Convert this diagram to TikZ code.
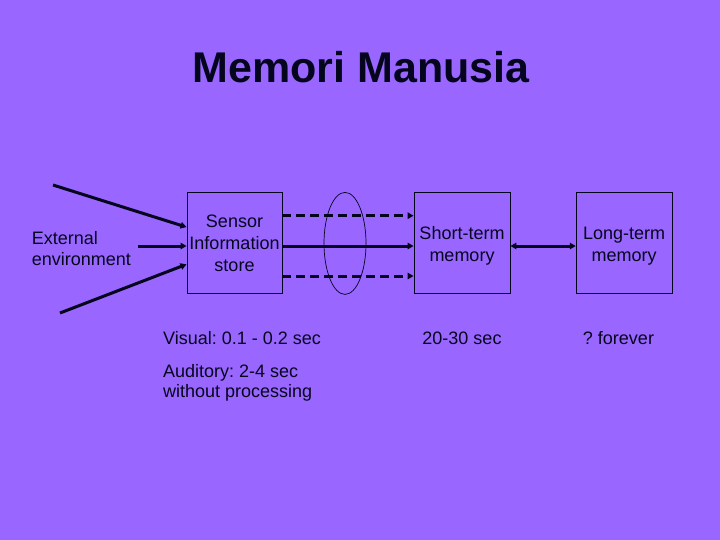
\documentclass[tikz,border=0pt]{standalone}
\usepackage{fontspec}
\setmainfont{Liberation Sans}
\usetikzlibrary{arrows.meta,calc,shapes.geometric}
\frenchspacing
\definecolor{bg}{RGB}{153,102,255}
\definecolor{ink}{RGB}{5,5,30}
\tikzset{
  memorybox/.style={draw=ink, line width=0.9pt, minimum width=96pt, minimum height=101pt,
    inner sep=0pt, align=center, text=ink, font=\fontsize{18}{22}\selectfont},
  plaintext/.style={inner sep=0pt, text=ink, font=\fontsize{18}{20.5}\selectfont},
  flow/.style={draw=ink, line width=3pt, -{Triangle[length=6pt,width=6.5pt]}},
  dflow/.style={flow, dash pattern=on 9pt off 5pt},
  bidir/.style={draw=ink, line width=3pt, {Triangle[length=6pt,width=6.5pt]}-{Triangle[length=6pt,width=6.5pt]}}
}
\begin{document}
\begin{tikzpicture}[x=1pt,y=-1pt]
\fill[bg] (0,0) rectangle (720,540);
\useasboundingbox (0,0) rectangle (720,540);

\node[inner sep=0pt, text=ink, font=\fontsize{43}{48}\selectfont\bfseries, anchor=base] (title) at (361,82.7) {Memori Manusia};

\node[memorybox, minimum width=95pt] (sensor) at (234.5,243.4) {Sensor\\Information\\store};
\node[memorybox] (stm) at (462,243.4) {\rule{0pt}{17pt}Short-term\\memory};
\node[memorybox] (ltm) at (624.2,243.4) {\rule{0pt}{17pt}Long-term\\memory};

\node[plaintext, align=left, anchor=west] (env) at (31.7,248.7) {External\\environment};

\node[draw=ink, line width=0.7pt, ellipse, minimum width=42pt, minimum height=102pt, inner sep=0pt] (ell) at (345,243.4) {};

\coordinate (in1) at (53,185);
\coordinate (in2) at (138,246);
\coordinate (in3) at (60,313);
\draw[flow] (in1) -- ($(sensor.west)+(0,-16.3)$);
\draw[flow] (in2) -- ($(sensor.west)+(0,2.6)$);
\draw[flow] (in3) -- ($(sensor.west)+(0,20.9)$);

\draw[dflow] ($(sensor.east)+(0,-27.7)$) -- ($(stm.west)+(0,-27.7)$);
\draw[flow] ($(sensor.east)+(0,2.6)$) -- ($(stm.west)+(0,2.6)$);
\draw[dflow] ($(sensor.east)+(0,32.6)$) -- ($(stm.west)+(0,32.6)$);

\draw[bidir] ($(stm.east)+(0,2.6)$) -- ($(ltm.west)+(0,2.6)$);

\node[plaintext, anchor=base west] (visual) at (163,344) {Visual: 0.1 - 0.2 sec};
\node[plaintext, anchor=north west, align=left] (audit) at (163,364) {Auditory: 2-4 sec\\without processing};
\node[plaintext, anchor=base] (stmtime) at (462,344) {20-30 sec};
\node[plaintext, anchor=base] (ltmtime) at (618.5,344) {? forever};
\end{tikzpicture}
\end{document}
